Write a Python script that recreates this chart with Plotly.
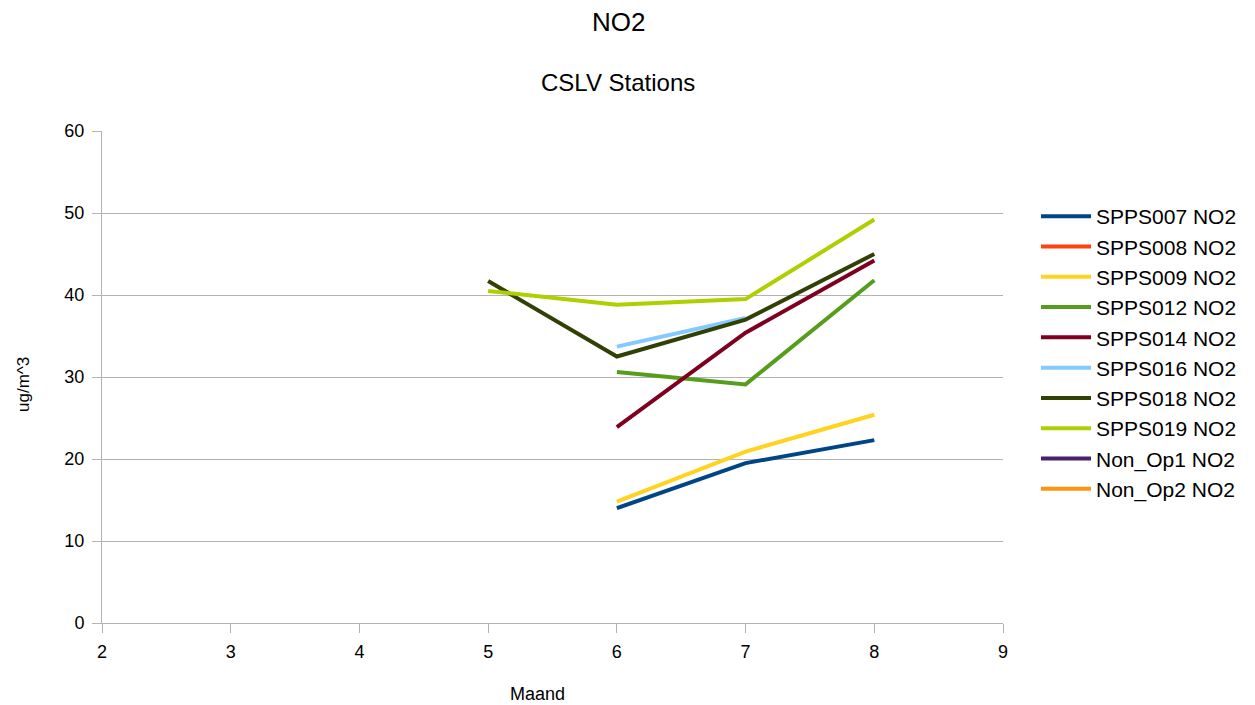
import plotly.graph_objects as go

months = [5, 6, 7, 8]
series_names = ["SPPS007 NO2", "SPPS008 NO2", "SPPS009 NO2", "SPPS012 NO2", "SPPS014 NO2",
                "SPPS016 NO2", "SPPS018 NO2", "SPPS019 NO2", "Non_Op1 NO2", "Non_Op2 NO2"]
spps007 = [None, 14.0, 19.5, 22.3]
spps008 = [None, None, None, None]
spps009 = [None, 14.8, 20.9, 25.4]
spps012 = [None, 30.6, 29.1, 41.8]
spps014 = [None, 23.9, 35.4, 44.2]
spps016 = [None, 33.7, 37.2, None]
spps018 = [41.7, 32.5, 37.0, 45.0]
spps019 = [40.5, 38.8, 39.5, 49.2]
nonop1 = [None, None, None, None]
nonop2 = [None, None, None, None]
series_values = [spps007, spps008, spps009, spps012, spps014, spps016, spps018, spps019, nonop1, nonop2]
colors = ["#004586", "#ff420e", "#ffd320", "#579d1c", "#7e0021",
          "#83caff", "#314004", "#aecf00", "#4b1f6f", "#ff950e"]

fig = go.Figure()
for name, vals, c in zip(series_names, series_values, colors):
    fig.add_trace(go.Scatter(x=months, y=vals, name=name, mode="lines",
                             line=dict(color=c, width=4), connectgaps=False))

OFF = 8  # page body margin
W, H = 1255 - OFF, 705 - OFF
L, R, T, B = 102 - OFF, 1003 - OFF, 131 - OFF, 623 - OFF

font_family = "Liberation Sans, Arial, sans-serif"
fig.update_layout(
    width=W, height=H,
    paper_bgcolor="white", plot_bgcolor="white",
    margin=dict(l=L, r=W - R, t=T, b=H - B, pad=0),
    font=dict(family=font_family, size=18, color="#000000"),
    showlegend=True,
    legend=dict(x=(1036 - OFF - L) / (R - L), y=(B - (196 - OFF)) / (B - T),
                xanchor="left", yanchor="top", itemwidth=50,
                font=dict(size=21, color="#000000"), tracegroupgap=0,
                bgcolor="rgba(0,0,0,0)"),
    xaxis=dict(range=[2, 9], tickvals=[2, 3, 4, 5, 6, 7, 8, 9], showgrid=False,
               showline=True, linecolor="#b3b3b3", linewidth=1, zeroline=False,
               ticks="outside", ticklen=9, tickcolor="#b3b3b3", ticklabelstandoff=3,
               tickfont=dict(size=18, color="#000000")),
    yaxis=dict(range=[0, 60], tickvals=[0, 10, 20, 30, 40, 50, 60], showgrid=True,
               gridcolor="#b3b3b3", gridwidth=1, showline=True, linecolor="#b3b3b3",
               linewidth=1, zeroline=False, ticks="outside", ticklen=9,
               tickcolor="#b3b3b3", ticklabelstandoff=4,
               tickfont=dict(size=18, color="#000000")),
)

def px_x(p):
    return (p - OFF - L) / (R - L)

def px_y(p):
    return (B - (p - OFF)) / (B - T)

fig.add_annotation(text="NO2", x=px_x(618), y=px_y(22), xref="paper", yref="paper",
                   showarrow=False, font=dict(size=26), xanchor="center", yanchor="middle")
fig.add_annotation(text="CSLV Stations", x=px_x(618), y=px_y(82), xref="paper", yref="paper",
                   showarrow=False, font=dict(size=24), xanchor="center", yanchor="middle")
fig.add_annotation(text="Maand", x=px_x(537), y=px_y(694), xref="paper", yref="paper",
                   showarrow=False, font=dict(size=18), xanchor="center", yanchor="middle")
fig.add_annotation(text="ug/m^3", x=px_x(23), y=px_y(385), xref="paper", yref="paper",
                   showarrow=False, font=dict(size=17), textangle=-90,
                   xanchor="center", yanchor="middle")

fig.write_html("out.html")
